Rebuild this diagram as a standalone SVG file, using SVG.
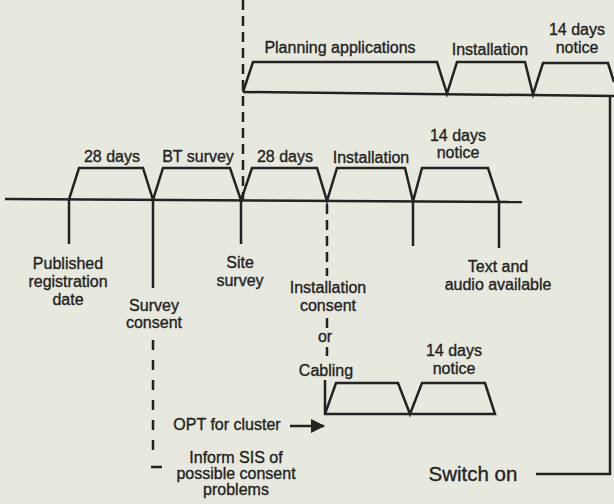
<svg xmlns="http://www.w3.org/2000/svg" width="614" height="504" viewBox="0 0 614 504">
<style>
.ln{fill:none;stroke:#232323;stroke-width:2.5;stroke-linejoin:miter;stroke-linecap:butt}
.ds{fill:none;stroke:#232323;stroke-width:2.5;stroke-dasharray:10 6}
.t{font-family:"Liberation Sans",Arial,sans-serif;font-size:16px;fill:#232323;stroke:#232323;stroke-width:0.35;text-anchor:middle}
.big{font-size:20.5px}
</style>
<defs>
<marker id="ah" markerWidth="14" markerHeight="14" refX="13" refY="7" orient="auto" markerUnits="userSpaceOnUse" viewBox="0 0 14 14">
<path d="M0,0 L14,7 L0,14 z" fill="#232323"/>
</marker>
</defs>
<rect width="614" height="504" fill="#e8e9de"/>

<g id="connectors">
<path class="ds" d="M243,0 V199"/>
<path class="ds" d="M327,204 V276"/>
<path class="ds" d="M327,318 V328 M327,347 V356"/>
<path class="ds" d="M153,340 V458" style="stroke-dasharray:10 10"/>
<path class="ln" d="M151,467 H162"/>
<path class="ln" d="M610,95 V474 H536"/>
<path class="ln" d="M290,426 H324" marker-end="url(#ah)"/>
</g>

<g id="timeline-top">
<path class="ln" d="M243,92 L614,96"/>
<path class="ln" d="M243,92 L253,62 L437,62 L447,93.6 L457,62 L525,62 L533,94.4 L543,63 L608,63 L614,82"/>
</g>

<g id="timeline-middle">
<path class="ln" d="M5,199 L522,202"/>
<path class="ln" d="M69,199.4 L79,168 L143,168 L153,199.9 L163,168 L230,168 L241,200.4 L252,168 L317,168 L327,200.9 L337,168 L405,168 L413,201.4 L422,168 L488,168 L499,201.9"/>
<path class="ln" d="M69,199 V244 M153,199 V288 M241,200 V244 M413,201 V246 M499,202 V248"/>
</g>

<g id="timeline-bottom">
<path class="ln" d="M325,380 V414 H495 L485,383 L422,383 L410,414 L398,383 L336,383 L325,414"/>
</g>

<g id="labels-top">
<text class="t" x="340" y="53">Planning applications</text>
<text class="t" x="490" y="55">Installation</text>
<text class="t" x="577" y="35">14 days</text>
<text class="t" x="577" y="53">notice</text>
</g>

<g id="labels-middle">
<text class="t" x="112" y="162">28 days</text>
<text class="t" x="198" y="162">BT survey</text>
<text class="t" x="285" y="162">28 days</text>
<text class="t" x="371" y="163">Installation</text>
<text class="t" x="458" y="141">14 days</text>
<text class="t" x="458" y="158">notice</text>
</g>

<g id="label-published">
<text class="t" x="68" y="269">Published</text>
<text class="t" x="68" y="287">registration</text>
<text class="t" x="68" y="305">date</text>
</g>
<g id="label-survey-consent">
<text class="t" x="154" y="311">Survey</text>
<text class="t" x="154" y="328">consent</text>
</g>
<g id="label-site-survey">
<text class="t" x="240" y="268">Site</text>
<text class="t" x="240" y="286">survey</text>
</g>
<g id="label-installation-consent">
<text class="t" x="328" y="293">Installation</text>
<text class="t" x="328" y="311">consent</text>
<text class="t" x="325" y="342">or</text>
<text class="t" x="326" y="376">Cabling</text>
</g>
<g id="label-text-audio">
<text class="t" x="498" y="272">Text and</text>
<text class="t" x="498" y="290">audio available</text>
</g>
<g id="label-bottom-notice">
<text class="t" x="454" y="356">14 days</text>
<text class="t" x="454" y="374">notice</text>
</g>
<g id="label-opt">
<text class="t" x="227" y="430">OPT for cluster</text>
</g>
<g id="label-inform">
<text class="t" x="236" y="463">Inform SIS of</text>
<text class="t" x="236" y="479">possible consent</text>
<text class="t" x="236" y="495">problems</text>
</g>
<g id="label-switch-on">
<text class="t big" x="473" y="481">Switch on</text>
</g>
</svg>
